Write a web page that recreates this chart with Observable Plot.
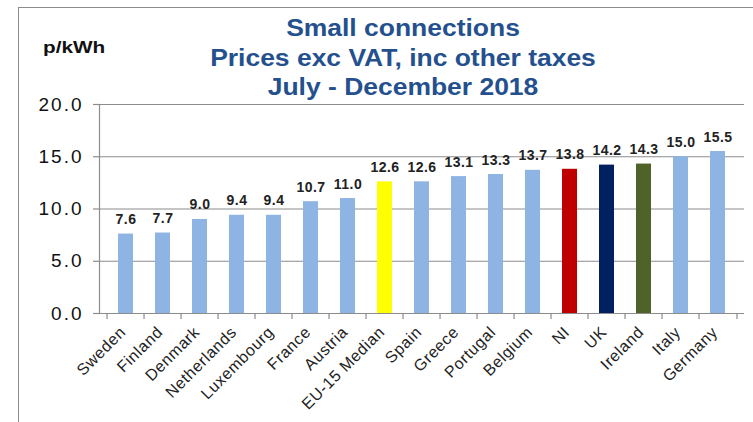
<!DOCTYPE html>
<html>
<head>
<meta charset="utf-8">
<script src="https://cdn.jsdelivr.net/npm/d3@7"></script>
<script src="https://cdn.jsdelivr.net/npm/@observablehq/plot@0.6"></script>
<style>
  body { margin: 0; background: #fff; }
  #wrap { position: relative; width: 753px; height: 422px; overflow: hidden; font-family: "Liberation Sans", Arial, sans-serif; }
  #frame { position: absolute; left: 18px; top: 7px; right: -5px; bottom: -5px; border-top: 1.5px solid #8c8c8c; border-left: 1.5px solid #8c8c8c; }
  #title { position: absolute; left: 203px; width: 400px; top: 14px; text-align: center; color: #24508e; font-weight: bold; font-size: 23px; line-height: 29.5px; transform: scaleX(1.15); transform-origin: 50% 0; }
  #unit { position: absolute; left: 43px; top: 38px; font-weight: bold; font-size: 17px; color: #111; transform: scaleX(1.22); transform-origin: 0 0; }
  #chart { position: absolute; left: 0; top: 0; }
  #chart svg g[aria-label="y-axis tick label"] text { letter-spacing: 2px; }
  #chart svg g[aria-label="x-axis tick label"] text { letter-spacing: 0.6px; }
  #chart svg g[aria-label="text"] text { letter-spacing: 0.5px; }
</style>
</head>
<body>
<div id="wrap">
  <div id="frame"></div>
  <div id="chart"></div>
  <div id="title">Small connections<br>Prices exc VAT, inc other taxes<br>July - December 2018</div>
  <div id="unit">p/kWh</div>
</div>
<script>
const countries = ["Sweden","Finland","Denmark","Netherlands","Luxembourg","France","Austria","EU-15 Median","Spain","Greece","Portugal","Belgium","NI","UK","Ireland","Italy","Germany"];
const prices = [7.6, 7.7, 9.0, 9.4, 9.4, 10.7, 11.0, 12.6, 12.6, 13.1, 13.3, 13.7, 13.8, 14.2, 14.3, 15.0, 15.5];
const highlightNames = ["EU-15 Median","NI","UK","Ireland"];
const highlightColors = ["#ffff00","#c00000","#002060","#4f6228"];
const baseColor = "#8db4e2";
const yTicks = [0, 5, 10, 15, 20];

const data = countries.map((c, i) => ({country: c, price: prices[i]}));
const colorOf = c => { const k = highlightNames.indexOf(c); return k >= 0 ? highlightColors[k] : baseColor; };

const W = 753, H = 422, mL = 99, mR = 9, mT = 104, mB = 109;
const halfStep = (W - mL - mR) / countries.length / 2;
const grey = "#8c8c8c";

const chart = Plot.plot({
  width: W, height: H,
  marginLeft: mL, marginRight: mR, marginTop: mT, marginBottom: mB,
  style: {fontFamily: "'Liberation Sans', Arial, sans-serif", background: "transparent"},
  x: {domain: countries, paddingInner: 0.6, paddingOuter: 0.3, label: null},
  y: {domain: [0, 20], label: null},
  marks: [
    Plot.gridY(yTicks, {stroke: grey, strokeOpacity: 1, strokeWidth: 1.2}),
    Plot.frame({anchor: "left", stroke: grey, strokeWidth: 1.2}),
    Plot.axisY({ticks: yTicks, tickSize: 6, tickPadding: 10, stroke: grey, strokeWidth: 1.2, tickFormat: d => d.toFixed(1), fontSize: 19, fill: "#111", label: null}),
    Plot.barY(data, {x: "country", y: "price", fill: d => colorOf(d.country)}),
    Plot.text(data, {x: "country", y: "price", text: d => d.price.toFixed(1), lineAnchor: "bottom", dy: -10, fontWeight: "bold", fontSize: 14, fill: "#222"}),
    Plot.axisX({tickSize: 0, tickPadding: 16, dx: -3, tickRotate: -45, fontSize: 16, fill: "#222", label: null}),
    Plot.axisX({tickSize: 6, text: null, dx: -halfStep, stroke: grey, strokeWidth: 1.2, label: null}),
    Plot.axisX({ticks: [countries[countries.length - 1]], tickSize: 6, text: null, dx: halfStep, stroke: grey, strokeWidth: 1.2, label: null})
  ]
});
document.getElementById("chart").appendChild(chart);
</script>
</body>
</html>
